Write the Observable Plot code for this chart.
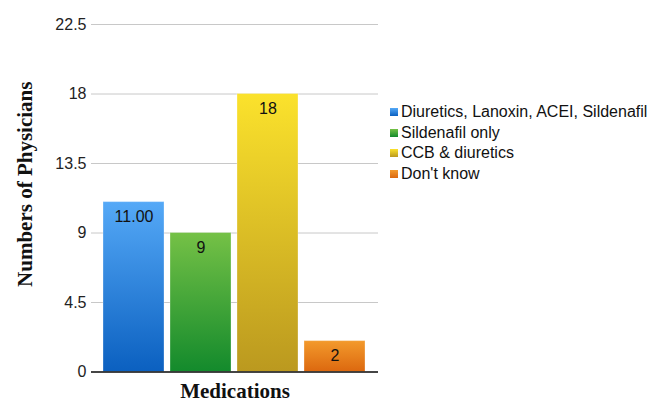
<!DOCTYPE html>
<html><head><meta charset="utf-8">
<script src="https://cdn.jsdelivr.net/npm/d3@7"></script>
<script src="https://cdn.jsdelivr.net/npm/@observablehq/plot@0.6"></script>
<style>
body{margin:0;background:#fff;}
#wrap{position:relative;width:649px;height:403px;}
#legend{position:absolute;left:390px;top:102px;font:16px "Liberation Sans",Arial,sans-serif;color:#111;}
.item{display:flex;align-items:center;height:20.5px;white-space:nowrap;}
.sw{width:8px;height:8px;margin-right:3px;flex:none;}
</style></head><body><div id="wrap"><div id="legend"></div></div>
<script>
const categories = ["Diuretics, Lanoxin, ACEI, Sildenafil", "Sildenafil only", "CCB & diuretics", "Don't know"];
const values = [11, 9, 18, 2];
const valueLabels = ["11.00", "9", "18", "2"];
const yTicks = [0, 4.5, 9, 13.5, 18, 22.5];
const topColors = ["#55a9f7", "#75c146", "#fbe22c", "#f39a2c"];
const bottomColors = ["#0b60c0", "#138a2c", "#bb991f", "#dc680f"];
const yTitle = "Numbers of Physicians";
const xTitle = "Medications";

const data = categories.map((c, i) => ({cat: c, value: values[i], label: valueLabels[i], grad: `url(#g${i})`}));

const serif = "'Liberation Serif','Times New Roman',serif";
const chart = Plot.plot({
  width: 649,
  height: 403,
  marginLeft: 91,
  marginRight: 271,
  marginTop: 24,
  marginBottom: 31.5,
  style: {fontFamily: "'Liberation Sans',Arial,sans-serif", fontSize: "16px", color: "#222", background: "#fff"},
  x: {type: "band", domain: categories, paddingInner: 0.084, paddingOuter: 0.163, axis: null},
  y: {domain: [0, 22.5], axis: null},
  color: {type: "identity"},
  marks: [
    Plot.gridY(yTicks, {stroke: "#c8c8c8", strokeOpacity: 1}),
    Plot.axisY(yTicks, {tickSize: 0, tickPadding: 5, tickFormat: d => String(d), label: null, fontSize: 16, fill: "#222"}),
    Plot.barY(data, {x: "cat", y: "value", fill: "grad", stroke: "#fff", strokeOpacity: 0.3, strokeWidth: 1}),
    Plot.ruleY([0], {stroke: "#111", strokeWidth: 1.5}),
    Plot.text(data, {x: "cat", y: "value", text: "label", dy: 15, fontSize: 16, fill: "#111"}),
    Plot.text([yTitle], {text: d => d, frameAnchor: "left", textAnchor: "middle", lineAnchor: "middle", dx: -66.5, dy: -14, rotate: -90, fontFamily: serif, fontWeight: "bold", fontSize: 21, fill: "#111"}),
    Plot.text([xTitle], {text: d => d, frameAnchor: "bottom", textAnchor: "middle", lineAnchor: "middle", dy: 19.5, fontFamily: serif, fontWeight: "bold", fontSize: 21, fill: "#111"})
  ]
});

const svg = d3.select(chart);
const defs = svg.insert("defs", ":first-child");
topColors.forEach((t, i) => {
  const g = defs.append("linearGradient").attr("id", `g${i}`).attr("x1", 0).attr("y1", 0).attr("x2", 0).attr("y2", 1);
  g.append("stop").attr("offset", "0%").attr("stop-color", t);
  g.append("stop").attr("offset", "100%").attr("stop-color", bottomColors[i]);
});

document.getElementById("wrap").prepend(chart);

const legend = d3.select("#legend");
categories.forEach((c, i) => {
  const item = legend.append("div").attr("class", "item");
  item.append("div").attr("class", "sw").style("background", `linear-gradient(${topColors[i]}, ${bottomColors[i]})`);
  item.append("span").text(c);
});
</script></body></html>
